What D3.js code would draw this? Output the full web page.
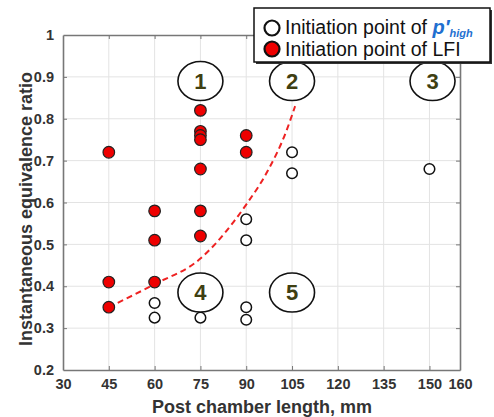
<!DOCTYPE html>
<html><head><meta charset="utf-8">
<script src="https://cdn.jsdelivr.net/npm/d3@7"></script>
<style>
body{margin:0;background:#fff;}
svg{font-family:"Liberation Sans",Arial,sans-serif;}
</style></head>
<body><svg id="c" width="494" height="417"></svg>
<script>
// ---- data ----
const xTicks = [30,45,60,75,90,105,120,135,150,160];
const yTicks = [0.2,0.3,0.4,0.5,0.6,0.7,0.8,0.9,1];
const lfiX = [45,45,45,60,60,60,75,75,75,75,75,75,75,90,90];
const lfiY = [0.72,0.41,0.35,0.58,0.51,0.41,0.82,0.77,0.76,0.75,0.68,0.58,0.52,0.76,0.72];
const pX = [60,60,75,90,90,90,90,105,105,150];
const pY = [0.36,0.325,0.325,0.56,0.51,0.35,0.32,0.72,0.67,0.68];
const curveX = [45,60,75,86,90,97,103,106];
const curveY = [0.35,0.405,0.466,0.555,0.595,0.675,0.768,0.83];
const labelText = ["1","2","3","4","5"];
const labelX = [75,105,151,75,105];
const labelY = [0.89,0.89,0.89,0.385,0.385];
const legendLabels = ["Initiation point of ", "Initiation point of LFI"];

const svg = d3.select("#c");
const L=63,R=460,T=35,B=370;
const x = d3.scaleLinear().domain([30,160]).range([L,R]);
const y = d3.scaleLinear().domain([0.2,1]).range([B,T]);

// grid
svg.append("g").selectAll("line").data(xTicks.slice(1,-1)).join("line")
  .attr("x1",d=>x(d)).attr("x2",d=>x(d)).attr("y1",T).attr("y2",B)
  .attr("stroke","#e3e3e3").attr("stroke-width",1);
svg.append("g").selectAll("line").data(yTicks.slice(1,-1)).join("line")
  .attr("y1",d=>y(d)).attr("y2",d=>y(d)).attr("x1",L).attr("x2",R)
  .attr("stroke","#e3e3e3").attr("stroke-width",1);

// axes
const axCol="#777";
const gxB = svg.append("g").attr("transform",`translate(0,${B})`)
  .call(d3.axisBottom(x).tickValues(xTicks).tickSizeInner(-4).tickSizeOuter(0).tickPadding(9));
const gxT = svg.append("g").attr("transform",`translate(0,${T})`)
  .call(d3.axisTop(x).tickValues(xTicks).tickSizeInner(-4).tickSizeOuter(0).tickFormat(""));
const gyL = svg.append("g").attr("transform",`translate(${L},0)`)
  .call(d3.axisLeft(y).tickValues(yTicks).tickSizeInner(-4).tickSizeOuter(0).tickPadding(9).tickFormat(d3.format("~g")));
const gyR = svg.append("g").attr("transform",`translate(${R},0)`)
  .call(d3.axisRight(y).tickValues(yTicks).tickSizeInner(-4).tickSizeOuter(0).tickFormat(""));
[gxB,gxT,gyL,gyR].forEach(g=>{
  g.select(".domain").attr("stroke",axCol).attr("stroke-width",1.6);
  g.selectAll(".tick line").attr("stroke",axCol).attr("stroke-width",1);
  g.selectAll("text").attr("fill","#333").attr("font-size",14.5).attr("font-weight","bold")
   .attr("font-family","'Liberation Sans',Arial,sans-serif");
});
gxB.selectAll(".tick").filter(d=>d===30||d===160).select("line").remove();
gyL.selectAll(".tick").filter(d=>d===0.2||d===1).select("line").remove();
gyR.selectAll(".tick").filter(d=>d===0.2||d===1).select("line").remove();
gxT.selectAll(".tick").filter(d=>d===30||d===160).select("line").remove();

// axis titles
svg.append("text").attr("x",262).attr("y",413).attr("text-anchor","middle")
  .attr("font-size",18).attr("font-weight","bold").attr("fill","#333")
  .text("Post chamber length, mm");
svg.append("text").attr("transform","translate(32,209) rotate(-90)").attr("text-anchor","middle")
  .attr("font-size",18).attr("font-weight","bold").attr("fill","#333")
  .text("Instantaneous equivalence ratio");

// dashed curve
const cpts = curveX.map((d,i)=>[d,curveY[i]]);
svg.append("path").datum(cpts)
  .attr("d",d3.line().x(d=>x(d[0])).y(d=>y(d[1])).curve(d3.curveMonotoneX))
  .attr("fill","none").attr("stroke","#ee2222").attr("stroke-width",2).attr("stroke-dasharray","6,4");

// open points
svg.append("g").selectAll("circle").data(pX.map((d,i)=>[d,pY[i]])).join("circle")
  .attr("cx",d=>x(d[0])).attr("cy",d=>y(d[1])).attr("r",5.3)
  .attr("fill","#fff").attr("stroke","#111").attr("stroke-width",1.5);
// red points
svg.append("g").selectAll("circle").data(lfiX.map((d,i)=>[d,lfiY[i]])).join("circle")
  .attr("cx",d=>x(d[0])).attr("cy",d=>y(d[1])).attr("r",5.8)
  .attr("fill","#ee0000").attr("stroke","#222").attr("stroke-width",1.2);

// region labels
const lg = svg.append("g").selectAll("g").data(labelText.map((t,i)=>({t,x:labelX[i],y:labelY[i]}))).join("g")
  .attr("transform",d=>`translate(${x(d.x)},${y(d.y)})`);
lg.append("ellipse").attr("rx",22.5).attr("ry",19.5).attr("fill","#fff").attr("stroke","#111").attr("stroke-width",1.6);
lg.append("text").attr("text-anchor","middle").attr("dy","0.36em").attr("font-size",22).attr("font-weight","bold")
  .attr("fill","#3f3f12").text(d=>d.t);

// legend
const leg = svg.append("g");
leg.append("rect").attr("x",256).attr("y",10).attr("width",236).attr("height",54).attr("fill","#333");
leg.append("rect").attr("x",254).attr("y",8).attr("width",236).attr("height",54)
  .attr("fill","#fff").attr("stroke","#111").attr("stroke-width",1.5);
leg.append("circle").attr("cx",272).attr("cy",28).attr("r",7.5).attr("fill","#fff").attr("stroke","#111").attr("stroke-width",2.2);
leg.append("circle").attr("cx",272).attr("cy",49).attr("r",7.5).attr("fill","#ee0000").attr("stroke","#111").attr("stroke-width",2.2);
const t1 = leg.append("text").attr("x",285).attr("y",34).attr("font-size",19.5).attr("fill","#111");
t1.append("tspan").text(legendLabels[0]);
t1.append("tspan").attr("fill","#1f6fd0").attr("font-weight","bold").attr("font-style","italic").attr("font-size",20).text("p′");
t1.append("tspan").attr("fill","#1f6fd0").attr("font-weight","bold").attr("font-style","italic").attr("font-size",11).attr("dy",3).text("high");
leg.append("text").attr("x",285).attr("y",56).attr("font-size",19.5).attr("fill","#111").text(legendLabels[1]);
</script></body></html>
